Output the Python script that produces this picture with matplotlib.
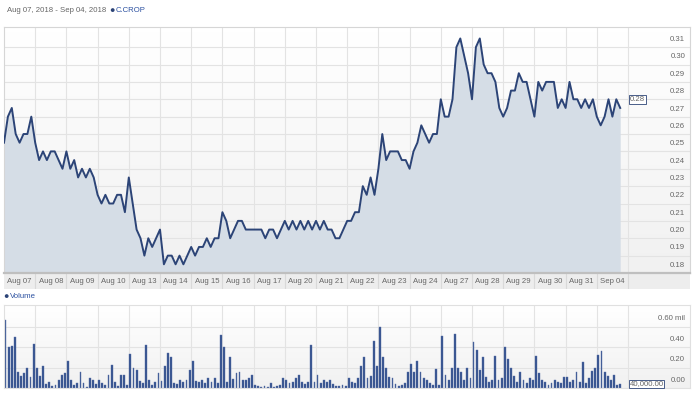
import numpy as np
import matplotlib.pyplot as plt
from matplotlib.colors import LinearSegmentedColormap

plt.rcParams['font.family'] = ['Liberation Sans', 'DejaVu Sans']

days = ["Aug 07", "Aug 08", "Aug 09", "Aug 10", "Aug 13", "Aug 14", "Aug 15",
        "Aug 16", "Aug 17", "Aug 20", "Aug 21", "Aug 22", "Aug 23", "Aug 24",
        "Aug 27", "Aug 28", "Aug 29", "Aug 30", "Aug 31", "Sep 04"]

# intraday price, 8 readings per trading day
price_wk1 = [0.255, 0.27, 0.275, 0.26, 0.255, 0.26, 0.26, 0.27,
             0.255, 0.245, 0.25, 0.245, 0.25, 0.25, 0.245, 0.24,
             0.25, 0.24, 0.245, 0.235, 0.24, 0.235, 0.24, 0.235,
             0.225, 0.22, 0.225, 0.22, 0.22, 0.225, 0.225, 0.215]
price_wk2 = [0.235, 0.22, 0.205, 0.20, 0.19, 0.20, 0.195, 0.20,
             0.205, 0.185, 0.19, 0.19, 0.185, 0.19, 0.185, 0.19,
             0.195, 0.19, 0.195, 0.195, 0.20, 0.195, 0.20, 0.20,
             0.215, 0.21, 0.20, 0.205, 0.21, 0.21, 0.205, 0.205,
             0.205, 0.205, 0.205, 0.20, 0.205, 0.205, 0.20, 0.205]
price_wk3 = [0.21, 0.205, 0.21, 0.205, 0.21, 0.205, 0.21, 0.205,
             0.21, 0.205, 0.21, 0.205, 0.205, 0.20, 0.20, 0.205,
             0.21, 0.21, 0.215, 0.215, 0.23, 0.225, 0.235, 0.225,
             0.24, 0.26, 0.245, 0.25, 0.25, 0.25, 0.245, 0.245,
             0.24, 0.25, 0.255, 0.265, 0.26, 0.255, 0.26, 0.26]
price_wk4 = [0.28, 0.27, 0.27, 0.28, 0.31, 0.315, 0.305, 0.295,
             0.28, 0.31, 0.315, 0.30, 0.295, 0.295, 0.29, 0.275,
             0.27, 0.275, 0.285, 0.285, 0.295, 0.29, 0.29, 0.28,
             0.27, 0.29, 0.285, 0.29, 0.29, 0.29, 0.275, 0.28,
             0.275, 0.29, 0.28, 0.28, 0.275, 0.28, 0.275, 0.28]
price_wk5 = [0.27, 0.265, 0.27, 0.28, 0.27, 0.28, 0.275]

# volume in millions of shares, 10 readings per trading day
vol_wk1 = [0.66, 0.40, 0.41, 0.50, 0.16, 0.12, 0.15, 0.20, 0.11, 0.43,
           0.20, 0.12, 0.21, 0.04, 0.06, 0.02, 0.03, 0.08, 0.13, 0.15,
           0.26, 0.08, 0.03, 0.05, 0.16, 0.05, 0.01, 0.10, 0.08, 0.04,
           0.08, 0.05, 0.03, 0.13, 0.22, 0.06, 0.02, 0.13, 0.13, 0.03]
vol_wk2 = [0.33, 0.20, 0.18, 0.07, 0.05, 0.42, 0.08, 0.03, 0.06, 0.15,
           0.07, 0.21, 0.34, 0.30, 0.05, 0.04, 0.08, 0.06, 0.08, 0.18,
           0.26, 0.07, 0.06, 0.08, 0.05, 0.10, 0.06, 0.10, 0.05, 0.52,
           0.40, 0.06, 0.30, 0.09, 0.15, 0.16, 0.08, 0.08, 0.10, 0.13,
           0.03, 0.02, 0.01, 0.02, 0.01, 0.05, 0.01, 0.02, 0.03, 0.10]
vol_wk3 = [0.08, 0.05, 0.06, 0.10, 0.13, 0.06, 0.04, 0.06, 0.42, 0.06,
           0.13, 0.05, 0.08, 0.06, 0.08, 0.04, 0.02, 0.02, 0.03, 0.02,
           0.10, 0.06, 0.05, 0.10, 0.21, 0.30, 0.10, 0.12, 0.46, 0.21,
           0.60, 0.30, 0.20, 0.11, 0.10, 0.04, 0.02, 0.03, 0.05, 0.16,
           0.23, 0.16, 0.26, 0.16, 0.10, 0.08, 0.05, 0.03, 0.19, 0.03]
vol_wk4 = [0.51, 0.13, 0.08, 0.20, 0.53, 0.20, 0.16, 0.08, 0.20, 0.10,
           0.45, 0.37, 0.18, 0.30, 0.11, 0.06, 0.08, 0.31, 0.08, 0.10,
           0.40, 0.28, 0.20, 0.12, 0.06, 0.16, 0.08, 0.05, 0.10, 0.08,
           0.31, 0.15, 0.08, 0.06, 0.03, 0.05, 0.08, 0.06, 0.05, 0.11,
           0.11, 0.06, 0.08, 0.16, 0.06, 0.25, 0.05, 0.10, 0.17, 0.20]
vol_wk5 = [0.32, 0.36, 0.16, 0.12, 0.08, 0.13, 0.03, 0.04]

price_ticks = [0.18, 0.19, 0.20, 0.21, 0.22, 0.23, 0.24, 0.25, 0.26, 0.27,
               0.28, 0.29, 0.30, 0.31]
vol_ticks = [0.0, 0.2, 0.4, 0.6]

price = np.array(price_wk1 + price_wk2 + price_wk3 + price_wk4 + price_wk5)
vol = np.array(vol_wk1 + vol_wk2 + vol_wk3 + vol_wk4 + vol_wk5)
px = np.arange(len(price)) / 8.0
vx = np.arange(len(vol)) / 10.0 + 0.05

W, H = 696, 395
fig = plt.figure(figsize=(W / 100, H / 100), dpi=100)


def box(l, t, r, b):
    return [l / W, 1 - b / H, (r - l) / W, (b - t) / H]


ndays = len(days)
xmax = ndays + (690 - 628) / 31.2
navy = '#2c4477'
grid_c = '#e3e3e3'
lab_c = '#666666'
bg = LinearSegmentedColormap.from_list('bg', ['#f1f1f1', '#ffffff'])

# price panel
ax = fig.add_axes(box(4, 27, 690, 273))
ax.set_xlim(0, xmax)
ax.set_ylim(0.18, 0.3216)
ax.imshow(np.linspace(0, 1, 50).reshape(-1, 1), extent=[0, xmax, 0.18, 0.3216],
          aspect='auto', cmap=bg, origin='lower', zorder=0)
for v in price_ticks:
    ax.axhline(v, color=grid_c, lw=0.8, zorder=1)
    ax.annotate(f"{v:.2f}", xy=(1, v), xycoords=('axes fraction', 'data'),
                xytext=(-3.5, 5.5), textcoords='offset points',
                ha='right', va='center', fontsize=5.6, color=lab_c)
for d in range(1, ndays + 1):
    ax.axvline(d, color=grid_c, lw=0.8, zorder=1)
ax.fill_between(px, price, 0.18, color='#d5dde6', lw=0, zorder=2)
ax.plot(px, price, color=navy, lw=1.4, zorder=3)
ax.text(ndays + 0.06, round(price[-1], 2), f"{price[-1]:.2f}", fontsize=5.6,
        color=lab_c, ha='left', va='center', zorder=4,
        bbox=dict(boxstyle='square,pad=0.1', fc='white', ec=navy, lw=0.6))
ax.set_xticks([])
ax.set_yticks([])
for s in ax.spines.values():
    s.set_color('#d6d6d6')
    s.set_linewidth(0.8)

# date band
axd = fig.add_axes(box(4, 273, 690, 289))
axd.set_xlim(0, xmax)
axd.set_ylim(0, 1)
axd.set_facecolor('#ededed')
for d in range(1, ndays + 1):
    axd.axvline(d, color='#d9d9d9', lw=0.8)
for i, lab in enumerate(days):
    axd.text(i + 0.5, 0.45, lab, ha='center', va='center', fontsize=5.6,
             color=lab_c)
axd.set_xticks([])
axd.set_yticks([])
for s in axd.spines.values():
    s.set_visible(False)
axd.spines['top'].set_visible(True)
axd.spines['top'].set_color('#bfbfbf')
axd.spines['top'].set_linewidth(1.6)

# volume panel
axv = fig.add_axes(box(4, 305, 690, 388))
axv.set_xlim(0, xmax)
axv.set_ylim(0, 0.81)
axv.imshow(np.linspace(0, 1, 50).reshape(-1, 1), extent=[0, xmax, 0, 0.81],
           aspect='auto', cmap=bg, origin='lower', zorder=0)
for v in vol_ticks:
    axv.axhline(v, color=grid_c, lw=0.8, zorder=1)
    lab = f"{v:.2f} mil" if v == max(vol_ticks) else f"{v:.2f}"
    axv.annotate(lab, xy=(1, v), xycoords=('axes fraction', 'data'),
                 xytext=(-3.5, 5.5), textcoords='offset points',
                 ha='right', va='center', fontsize=5.6, color=lab_c)
for d in range(1, ndays + 1):
    axv.axvline(d, color=grid_c, lw=0.8, zorder=1)
axv.bar(vx, vol, width=0.06, color='#33508d', ec='#5a72a8', lw=0.3, zorder=2)
axv.text(ndays + 0.05, vol[-1], f"{vol[-1] * 1e6:,.2f}", fontsize=5.6,
         color=lab_c, ha='left', va='center', zorder=4,
         bbox=dict(boxstyle='square,pad=0.1', fc='white', ec=navy, lw=0.6))
axv.set_xticks([])
axv.set_yticks([])
for s in axv.spines.values():
    s.set_color('#e0e0e0')
    s.set_linewidth(0.8)

# header and legend text
fig.text(7 / W, 1 - 11 / H, "Aug 07, 2018 - Sep 04, 2018", fontsize=5.6,
         color=lab_c, va='center')
fig.text(109 / W, 1 - 11 / H, "\u25CF", fontsize=6.5, color=navy, va='center')
fig.text(116 / W, 1 - 11 / H, "C.CROP", fontsize=5.6, color='#2b50a0',
         va='center')
fig.text(3 / W, 1 - 296 / H, "\u25CF", fontsize=6.5, color=navy, va='center')
fig.text(10 / W, 1 - 296 / H, "Volume", fontsize=5.6, color='#2b50a0',
         va='center')

fig.savefig('out.png', dpi=100)
